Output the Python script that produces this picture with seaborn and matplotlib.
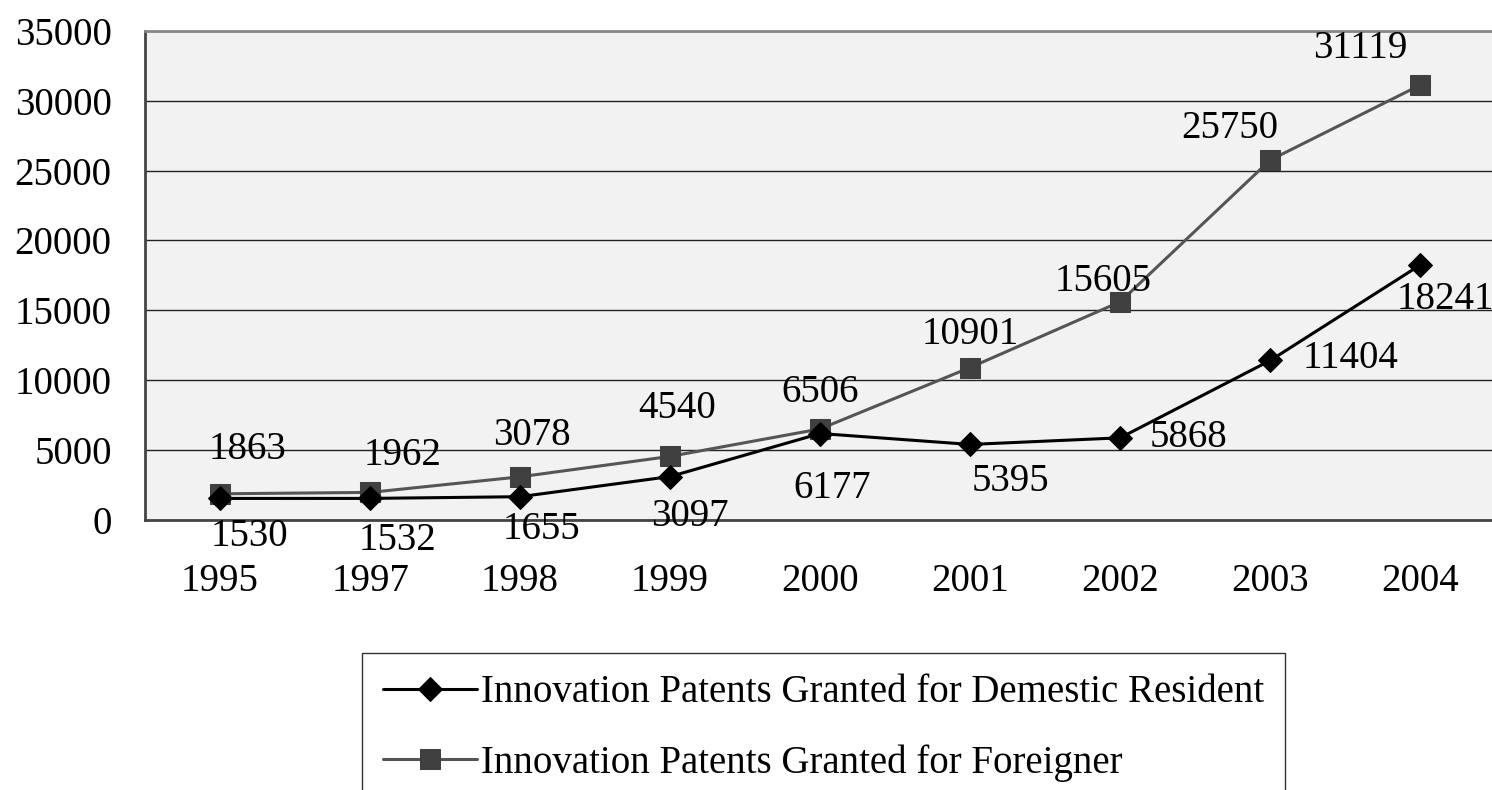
import matplotlib
matplotlib.use("Agg")
import matplotlib.pyplot as plt
import pandas as pd
import seaborn as sns

# data
years = ['1995', '1997', '1998', '1999', '2000', '2001', '2002', '2003', '2004']
domestic = [1530, 1532, 1655, 3097, 6177, 5395, 5868, 11404, 18241]
foreign = [1863, 1962, 3078, 4540, 6506, 10901, 15605, 25750, 31119]
label_dom = 'Innovation Patents Granted for Demestic Resident'
label_for = 'Innovation Patents Granted for Foreigner'

# label offsets in pixels (dx, dy), y up
off_dom = [(29, -38), (27, -42), (21, -33), (20, -40), (12, -55), (40, -37), (68, 0), (80, 2), (25, -35)]
off_for = [(27, 44), (32, 37), (12, 41), (7, 48), (0, 36), (0, 33), (-17, 20), (-40, 32), (-60, 37)]

sns.set_style("white")
plt.rcParams['font.family'] = ['Liberation Serif', 'DejaVu Serif']
plt.rcParams['text.color'] = 'black'
plt.rcParams['xtick.color'] = 'black'
plt.rcParams['ytick.color'] = 'black'

FS = 28

df = pd.DataFrame({'year': years, 'dom': domestic, 'for': foreign})
df['x'] = range(len(years))

fig = plt.figure(figsize=(14.92, 7.90), dpi=100)
ax = fig.add_axes([0.0972, 0.342, 0.905, 0.619])
ax.set_facecolor('#f2f2f2')

sns.lineplot(data=df, x='x', y='dom', ax=ax, color='black', marker='D', markersize=12,
             markeredgecolor='black', linewidth=2.2, label=label_dom, zorder=4)
sns.lineplot(data=df, x='x', y='for', ax=ax, color='#555555', marker='s', markersize=15,
             markerfacecolor='#404040', markeredgecolor='#404040', linewidth=2.2, label=label_for, zorder=3)

for i in range(len(years)):
    ax.annotate(str(domestic[i]), (df['x'][i], domestic[i]), xytext=off_dom[i],
                textcoords='offset pixels', ha='center', va='center', fontsize=FS, zorder=5)
    ax.annotate(str(foreign[i]), (df['x'][i], foreign[i]), xytext=off_for[i],
                textcoords='offset pixels', ha='center', va='center', fontsize=FS, zorder=5)

ax.set_xlim(-0.5, len(years) - 0.5)
ax.set_ylim(0, 35000)
ax.set_yticks(range(0, 35001, 5000))
ax.set_xticks(range(len(years)))
ax.set_xticklabels(years)
ax.set_xticks([i + 0.5 for i in range(len(years) - 1)], minor=True)
ax.tick_params(axis='x', which='major', length=0, pad=31, labelsize=FS)
ax.tick_params(axis='x', which='minor', length=12, direction='in', width=1, color='#444444')
ax.tick_params(axis='y', length=0, pad=24, labelsize=FS)
ax.yaxis.grid(True, color='#222222', linewidth=1)
ax.set_axisbelow(True)
ax.set_xlabel('')
ax.set_ylabel('')
for s in ['left', 'bottom']:
    ax.spines[s].set_color('#444444')
    ax.spines[s].set_linewidth(2)
ax.spines['top'].set_color('#888888')
ax.spines['top'].set_linewidth(2)
ax.spines['right'].set_visible(False)

ax.get_legend().remove()
h, l = ax.get_legend_handles_labels()
leg = fig.legend(h, l, loc='upper left', bbox_to_anchor=(0.2426, 0.1734), fontsize=FS,
                 frameon=True, fancybox=False, edgecolor='#333333', framealpha=1,
                 handlelength=2.4, handletextpad=0.1, labelspacing=0.85, borderpad=0.55,
                 borderaxespad=0)
leg.get_frame().set_linewidth(1)

fig.savefig('out.png', dpi=100)
